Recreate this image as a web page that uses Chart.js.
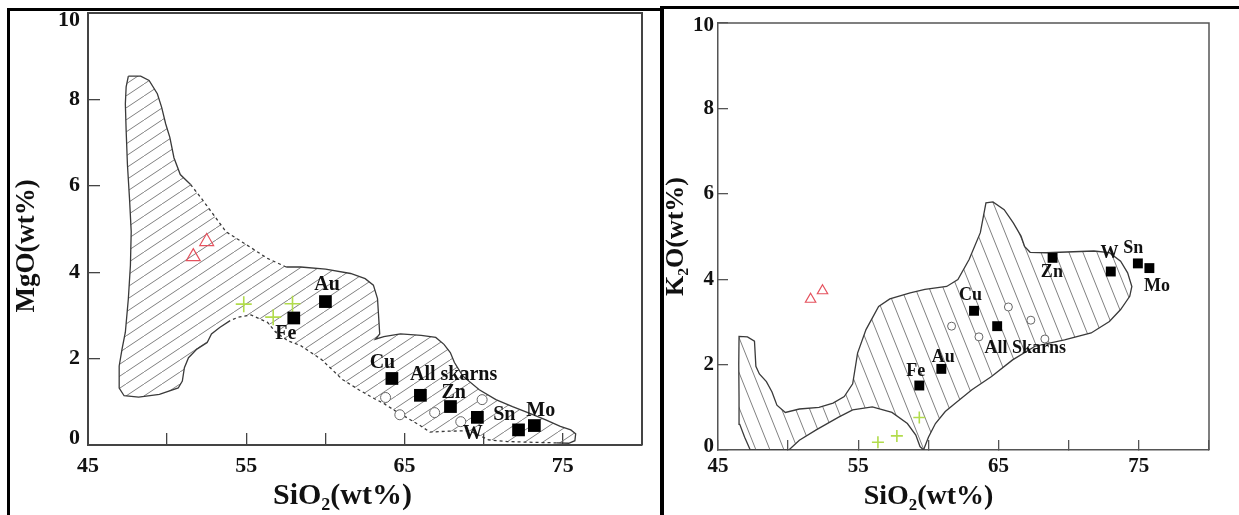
<!DOCTYPE html>
<html>
<head>
<meta charset="utf-8">
<script src="https://cdn.jsdelivr.net/npm/chart.js@4.4.0/dist/chart.umd.min.js"></script>
<style>
    html, body { margin: 0; padding: 0; background: #fff; }
    body { width: 1239px; height: 515px; position: relative; overflow: hidden; }
    .panel { position: absolute; top: 0; height: 515px; }
    #leftWrap { left: 0; width: 660px; }
    #rightWrap { left: 660px; width: 579px; }
    .rule { position: absolute; background: #000; }
</style>
</head>
<body>
<div class="panel" id="leftWrap"><canvas id="mgoChart"></canvas></div>
<div class="panel" id="rightWrap"><canvas id="k2oChart"></canvas></div>
<div class="rule" style="left:7px;top:8px;width:655px;height:3px"></div>
<div class="rule" style="left:7px;top:8px;width:3px;height:507px"></div>
<div class="rule" style="left:660px;top:6px;width:4px;height:509px"></div>
<div class="rule" style="left:660px;top:6px;width:579px;height:3px"></div>

<script>
// ---- data ----
const xTickLabels = [45, 55, 65, 75];
const skarnNamesA = ['Fe', 'Au', 'Cu', 'All skarns', 'Zn', 'W', 'Sn', 'Mo'];
const skarnNamesB = ['Fe', 'Au', 'Cu', 'All Skarns', 'Zn', 'W', 'Sn', 'Mo'];

// MgO vs SiO2 (left)
const mgoField = [
    [47.55, 8.54], [48.33, 8.54], [48.86, 8.44], [49.38, 8.13], [49.65, 7.82], [49.91, 7.43],
    [50.17, 7.12], [50.43, 6.65], [50.83, 6.26], [51.48, 6.03], [52.14, 5.72], [52.93, 5.33],
    [53.71, 4.94], [55.03, 4.63], [56.34, 4.32], [57.52, 4.12], [58.44, 4.12], [60.01, 4.07],
    [61.59, 3.97], [62.51, 3.85], [63.03, 3.70], [63.29, 3.39], [63.37, 2.92], [63.43, 2.57],
    [63.16, 2.45], [63.69, 2.51], [64.74, 2.57], [66.05, 2.54], [66.97, 2.49], [67.49, 2.33],
    [67.89, 2.14], [68.15, 1.91], [68.67, 1.60], [69.72, 1.28], [70.77, 1.05], [71.82, 0.89],
    [72.87, 0.74], [73.92, 0.58], [74.84, 0.43], [75.50, 0.35], [75.81, 0.26], [75.76, 0.10],
    [75.37, 0.04], [74.60, 0.05], [73.30, 0.06], [71.50, 0.08], [70.30, 0.12], [69.10, 0.33],
    [67.80, 0.32], [66.60, 0.30], [65.90, 0.47], [64.50, 0.77], [63.60, 0.98], [63.10, 1.07],
    [62.10, 1.28], [61.06, 1.52], [59.75, 1.98], [58.44, 2.30], [57.65, 2.41], [56.86, 2.61],
    [56.34, 2.84], [55.29, 3.01], [54.50, 2.96], [53.98, 2.88], [53.32, 2.72], [52.80, 2.57],
    [52.53, 2.37], [51.88, 2.22], [51.35, 2.02], [51.09, 1.79], [50.96, 1.48], [50.70, 1.32],
    [49.51, 1.17], [48.20, 1.11], [47.28, 1.14], [46.97, 1.32], [46.97, 1.83], [47.15, 2.22],
    [47.36, 2.61], [47.55, 3.39], [47.68, 4.16], [47.73, 4.94], [47.62, 5.72], [47.49, 6.50],
    [47.41, 7.28], [47.36, 7.90], [47.41, 8.29], [47.55, 8.54]
];
const mgoDashed = [[9, 14], [43, 62]];   // outline segments drawn dashed
const mgoSkarnX = [58.0, 60.0, 64.2, 66.0, 67.9, 69.6, 72.2, 73.2];
const mgoSkarnY = [2.94, 3.32, 1.54, 1.15, 0.89, 0.64, 0.35, 0.45];
const mgoLabelX = [57.5, 60.1, 63.6, 68.1, 68.1, 69.3, 71.3, 73.6];
const mgoLabelY = [2.57, 3.70, 1.91, 1.62, 1.21, 0.27, 0.70, 0.78];
const mgoTriX = [51.65, 52.5];
const mgoTriY = [4.36, 4.71];
const mgoPlusX = [54.84, 56.7, 57.92];
const mgoPlusY = [3.26, 2.96, 3.27];
const mgoOpenX = [63.8, 64.7, 66.9, 68.55, 69.9];
const mgoOpenY = [1.10, 0.70, 0.75, 0.54, 1.05];

// K2O vs SiO2 (right)
const k2oField = [
    [47.30, 0.00], [46.90, 0.30], [46.55, 0.60], [46.50, 1.20], [46.48, 2.00], [46.50, 2.66],
    [47.10, 2.65], [47.60, 2.55], [47.70, 1.96], [47.95, 1.78], [48.45, 1.60], [48.85, 1.36],
    [49.20, 1.05], [49.80, 0.88], [50.80, 0.96], [52.20, 1.00], [53.20, 1.10], [54.00, 1.25],
    [54.60, 1.55], [54.95, 2.27], [55.55, 2.82], [56.45, 3.36], [57.25, 3.54], [58.70, 3.68],
    [59.75, 3.76], [61.30, 3.83], [62.10, 3.99], [62.90, 4.46], [63.70, 5.09], [64.10, 5.79],
    [64.60, 5.81], [65.40, 5.63], [66.05, 5.32], [66.60, 5.01], [66.85, 4.77], [67.25, 4.63],
    [68.40, 4.62], [71.80, 4.66], [72.90, 4.62], [73.70, 4.42], [74.20, 4.15], [74.50, 3.83],
    [74.35, 3.60], [73.70, 3.29], [72.90, 3.01], [71.60, 2.74], [69.70, 2.58], [67.60, 2.43],
    [66.00, 2.11], [64.50, 1.72], [63.10, 1.41], [62.00, 1.12], [61.20, 0.90], [60.50, 0.62],
    [60.00, 0.30], [59.65, 0.00], [59.40, 0.08], [59.10, 0.35], [58.50, 0.62], [57.40, 0.88],
    [56.00, 1.01], [54.60, 0.94], [53.60, 0.77], [52.00, 0.47], [50.80, 0.23], [50.05, 0.00],
    [47.30, 0.00]
];
const k2oSkarnX = [59.35, 60.92, 63.25, 64.9, 68.85, 73.0, 74.93, 75.75];
const k2oSkarnY = [1.51, 1.90, 3.26, 2.90, 4.50, 4.18, 4.37, 4.26];
const k2oLabelX = [59.1, 61.05, 63.0, 66.9, 68.8, 72.9, 74.6, 76.3];
const k2oLabelY = [1.84, 2.17, 3.62, 2.39, 4.15, 4.60, 4.73, 3.83];
const k2oTriX = [51.6, 52.45];
const k2oTriY = [3.53, 3.73];
const k2oPlusX = [56.4, 57.75, 59.35];
const k2oPlusY = [0.18, 0.33, 0.76];
const k2oOpenX = [61.65, 63.6, 65.7, 67.3, 68.3];
const k2oOpenY = [2.90, 2.65, 3.35, 3.04, 2.60];

const SERIF = '"Liberation Serif", "Times New Roman", serif';

function pts(xs, ys) {
    return xs.map((x, i) => ({ x: x, y: ys[i] }));
}

// diagonal line pattern used for the shaded fields
function hatch(w, h, dir, color) {
    const c = document.createElement('canvas');
    c.width = w; c.height = h;
    const g = c.getContext('2d');
    g.strokeStyle = color;
    g.lineWidth = 1;
    for (const off of [-w, 0, w]) {
        g.beginPath();
        if (dir > 0) { g.moveTo(off, h); g.lineTo(off + w, 0); }
        else { g.moveTo(off, 0); g.lineTo(off + w, h); }
        g.stroke();
    }
    return g.createPattern(c, 'repeat');
}

function labelPlugin(names, xs, ys, size) {
    return {
        id: 'skarnLabels',
        afterDatasetsDraw(chart) {
            const { ctx, scales } = chart;
            ctx.save();
            ctx.font = 'bold ' + size + 'px ' + SERIF;
            ctx.fillStyle = '#111';
            ctx.textAlign = 'center';
            ctx.textBaseline = 'middle';
            names.forEach((n, i) => {
                ctx.fillText(n, scales.x.getPixelForValue(xs[i]), scales.y.getPixelForValue(ys[i]));
            });
            ctx.restore();
        }
    };
}

// top + right lines of the plot frame
function framePlugin(color, width) {
    return {
        id: 'frame',
        afterDraw(chart) {
            const { ctx, chartArea: a } = chart;
            ctx.save();
            ctx.strokeStyle = color;
            ctx.lineWidth = width;
            ctx.beginPath();
            ctx.moveTo(a.left, a.top);
            ctx.lineTo(a.right, a.top);
            ctx.lineTo(a.right, a.bottom);
            ctx.stroke();
            ctx.restore();
        }
    };
}

function makePanel(id, p) {
    const ctx = document.getElementById(id).getContext('2d');
    const outline = p.field.map(d => ({ x: d[0], y: d[1] }));
    // end labels (0 and 10) sit slightly inside the frame, as in the original
    const isEnd = v => v === 0 || v === 10;
    return new Chart(ctx, {
        type: 'scatter',
        data: {
            datasets: [
                // hatched field (fill only)
                {
                    type: 'line',
                    data: outline,
                    borderWidth: 0,
                    borderColor: 'rgba(0,0,0,0)',
                    backgroundColor: p.hatch,
                    fill: 'shape',
                    tension: 0,
                    pointRadius: 0,
                    order: 11
                },
                // field outline, partly dashed
                {
                    type: 'line',
                    data: outline,
                    borderColor: '#3a3a3a',
                    borderWidth: 1.3,
                    fill: false,
                    tension: 0,
                    pointRadius: 0,
                    order: 10,
                    segment: {
                        borderDash: c => p.dashed.some(r => c.p0DataIndex >= r[0] && c.p0DataIndex <= r[1]) ? [3, 3] : undefined
                    }
                },
                {
                    data: pts(p.openX, p.openY),
                    pointStyle: 'circle',
                    pointRadius: p.openR,
                    borderColor: '#666',
                    borderWidth: 1,
                    backgroundColor: '#fff',
                    order: 4
                },
                {
                    data: pts(p.triX, p.triY),
                    pointStyle: 'triangle',
                    pointRadius: p.triR,
                    borderColor: '#e5525e',
                    borderWidth: 1.2,
                    backgroundColor: 'rgba(0,0,0,0)',
                    order: 3
                },
                {
                    data: pts(p.plusX, p.plusY),
                    pointStyle: 'cross',
                    pointRadius: p.plusR,
                    borderColor: '#b2dc4c',
                    borderWidth: 1.6,
                    order: 2
                },
                {
                    data: pts(p.skX, p.skY),
                    pointStyle: 'rect',
                    pointRadius: p.sqR,
                    borderColor: '#000',
                    borderWidth: 0,
                    backgroundColor: '#000',
                    order: 1
                }
            ]
        },
        options: {
            responsive: true,
            maintainAspectRatio: false,
            animation: false,
            events: [],
            layout: { padding: p.padding },
            plugins: { legend: { display: false }, tooltip: { enabled: false } },
            scales: {
                x: {
                    type: 'linear',
                    min: 45, max: 80,
                    afterFit: s => { s.height = p.xAxisHeight; s.paddingLeft = 0; s.paddingRight = 0; },
                    border: { color: p.frameColor, width: p.frameWidth },
                    grid: { drawOnChartArea: false, tickLength: -p.tickLen, color: p.frameColor, lineWidth: 1.3 },
                    ticks: {
                        stepSize: 5, autoSkip: false, maxRotation: 0, padding: p.xTickPad,
                        color: '#111', font: { family: SERIF, size: p.tickSize, weight: 'bold' },
                        callback: v => xTickLabels.includes(v) ? String(v) : ''
                    },
                    title: {
                        display: true, text: p.xTitle, color: '#111',
                        font: { family: SERIF, size: p.xTitleSize, weight: 'bold', lineHeight: 1.2 },
                        padding: { top: 0, bottom: p.xTitlePad }
                    }
                },
                y: {
                    type: 'linear',
                    min: 0, max: 10,
                    afterFit: s => { s.width = p.yAxisWidth; s.paddingTop = 0; s.paddingBottom = 0; },
                    border: { color: p.frameColor, width: p.frameWidth },
                    grid: { drawOnChartArea: false, tickLength: -p.tickLen, color: p.frameColor, lineWidth: 1.3 },
                    ticks: {
                        stepSize: 2, padding: p.yTickPad, color: '#111',
                        font: c => ({
                            family: SERIF, size: p.tickSize, weight: 'bold',
                            lineHeight: c.tick && isEnd(c.tick.value) ? 2 * p.endShift / p.tickSize : 1.2
                        }),
                        callback: v => v === 10 ? ['', '10'] : v === 0 ? ['0', ''] : String(v)
                    },
                    title: {
                        display: true, text: p.yTitle, color: '#111',
                        font: { family: SERIF, size: p.yTitleSize, weight: 'bold', lineHeight: 1.2 },
                        padding: { top: p.yTitlePad, bottom: 0 }
                    }
                }
            }
        },
        plugins: [labelPlugin(p.names, p.labelX, p.labelY, p.labelSize), framePlugin(p.frameColor, p.frameWidth)]
    });
}

makePanel('mgoChart', {
    field: mgoField, dashed: mgoDashed, hatch: hatch(18, 12, 1, '#808080'),
    skX: mgoSkarnX, skY: mgoSkarnY, names: skarnNamesA, labelX: mgoLabelX, labelY: mgoLabelY,
    triX: mgoTriX, triY: mgoTriY, plusX: mgoPlusX, plusY: mgoPlusY, openX: mgoOpenX, openY: mgoOpenY,
    sqR: 9, triR: 8, plusR: 8, openR: 5, labelSize: 20,
    padding: { top: 13, right: 18, left: 0, bottom: 0 },
    xAxisHeight: 70, yAxisWidth: 88, tickLen: 12, tickSize: 22, xTitleSize: 30, yTitleSize: 27,
    xTickPad: 20, yTickPad: 20, xTitlePad: 1, yTitlePad: 11, endShift: 7,
    frameColor: '#444', frameWidth: 2,
    xTitle: 'SiO\u2082(wt%)' + '\u00a0'.repeat(6),
    yTitle: 'MgO(wt%)' + '\u00a0'.repeat(5)
});

makePanel('k2oChart', {
    field: k2oField, dashed: [], hatch: hatch(14, 35, -1, '#808080'),
    skX: k2oSkarnX, skY: k2oSkarnY, names: skarnNamesB, labelX: k2oLabelX, labelY: k2oLabelY,
    triX: k2oTriX, triY: k2oTriY, plusX: k2oPlusX, plusY: k2oPlusY, openX: k2oOpenX, openY: k2oOpenY,
    sqR: 7, triR: 6, plusR: 6, openR: 4, labelSize: 18,
    padding: { top: 23, right: 30, left: 0, bottom: 0 },
    xAxisHeight: 65, yAxisWidth: 58, tickLen: 10, tickSize: 21, xTitleSize: 28, yTitleSize: 26,
    xTickPad: 14, yTickPad: 14, xTitlePad: 1, yTitlePad: 1, endShift: 3,
    frameColor: '#555', frameWidth: 1.5,
    xTitle: 'SiO\u2082(wt%)' + '\u00a0'.repeat(10),
    yTitle: 'K\u2082O(wt%)'
});
</script>
</body>
</html>
